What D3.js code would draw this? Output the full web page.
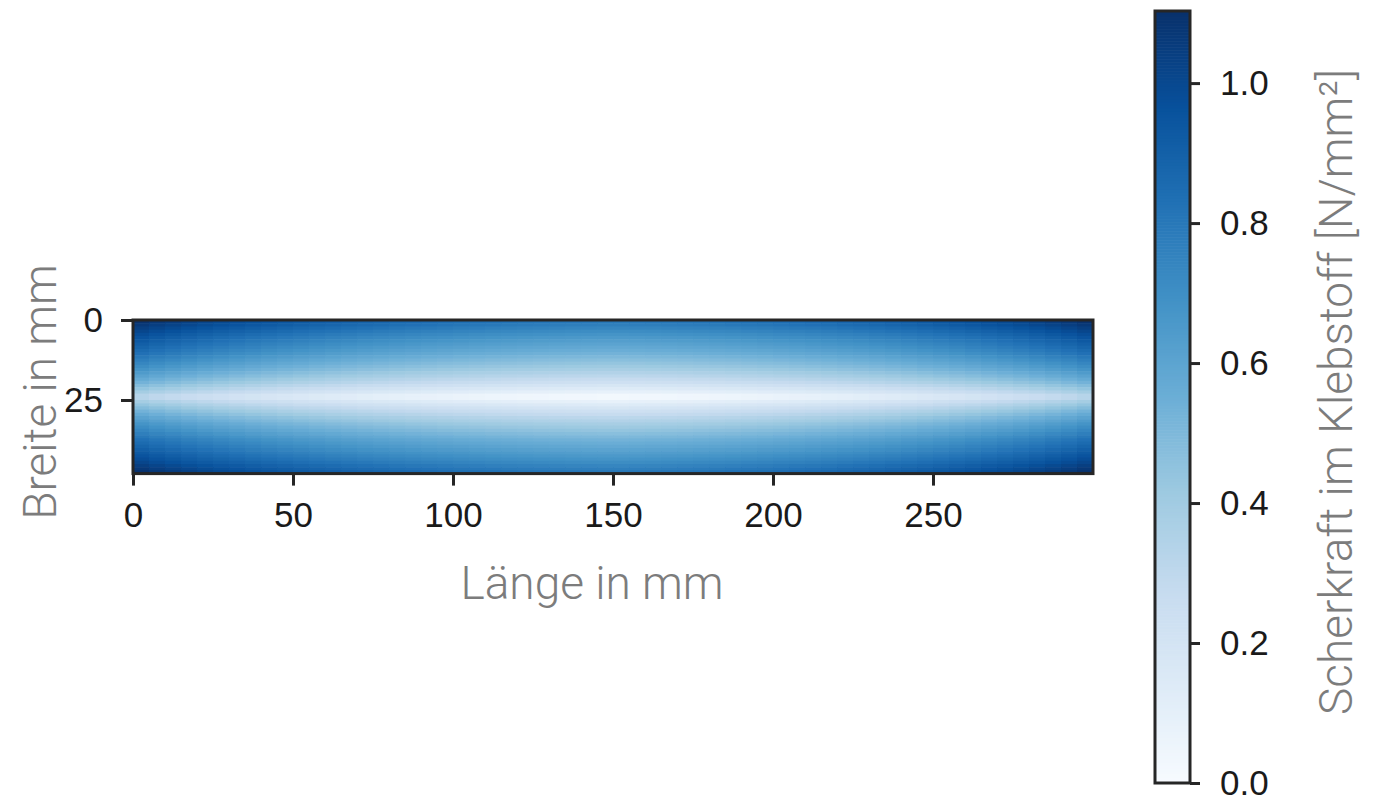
<!DOCTYPE html>
<html>
<head>
<meta charset="utf-8">
<script src="https://cdn.jsdelivr.net/npm/d3@7"></script>
<style>
  html, body { margin: 0; padding: 0; background: #fff; }
  svg { display: block; }
</style>
</head>
<body>
<svg id="chart" width="1387" height="806"></svg>
<script>
// Shear stress across the bond width (1 mm rows, top to bottom) at mid-length, N/mm²
const widthProfile = [
  0.80, 0.77, 0.74, 0.71, 0.68, 0.655, 0.63, 0.605, 0.58, 0.555, 0.53, 0.50,
  0.47, 0.44, 0.41, 0.38, 0.345, 0.31, 0.27, 0.23, 0.185, 0.14, 0.09, 0.03,
  0.03, 0.09, 0.14, 0.185, 0.23, 0.27, 0.31, 0.345, 0.38, 0.41, 0.44, 0.47,
  0.50, 0.53, 0.555, 0.58, 0.605, 0.63, 0.655, 0.68, 0.71, 0.74, 0.77, 0.80
];

// Additional shear along the length (5 mm columns, left to right), N/mm²
const lengthRise = [
  0.30, 0.275, 0.255, 0.235, 0.217, 0.20, 0.185, 0.17, 0.156, 0.143,
  0.13, 0.118, 0.107, 0.096, 0.086, 0.077, 0.068, 0.06, 0.052, 0.045,
  0.038, 0.032, 0.026, 0.021, 0.016, 0.012, 0.008, 0.005, 0.002, 0.0,
  0.0, 0.002, 0.005, 0.008, 0.012, 0.016, 0.021, 0.026, 0.032, 0.038,
  0.045, 0.052, 0.06, 0.068, 0.077, 0.086, 0.096, 0.107, 0.118, 0.13,
  0.143, 0.156, 0.17, 0.185, 0.20, 0.217, 0.235, 0.255, 0.275, 0.30
];

const rowSize = 1;      // mm per row
const colSize = 5;      // mm per column
const bondLength = 300; // mm
const bondWidth = 48;   // mm

const xTicks = [0, 50, 100, 150, 200, 250];
const yTicks = [0, 25];
const colorTicks = [0.0, 0.2, 0.4, 0.6, 0.8, 1.0];
const colorRange = [0, 1.103];

// ColorBrewer "Blues", linearly interpolated
const bluesStops = ["#f7fbff", "#deebf7", "#c6dbef", "#9ecae1", "#6baed6",
                    "#4292c6", "#2171b5", "#08519c", "#08306b"];

const cells = [];
widthProfile.forEach((w, r) => {
  lengthRise.forEach((l, c) => {
    cells.push({ x0: c * colSize, y0: r * rowSize, value: w + l });
  });
});

const svg = d3.select("#chart");

const x = d3.scaleLinear().domain([0, bondLength]).range([133, 1093]);
const y = d3.scaleLinear().domain([0, bondWidth]).range([320, 473.6]);

const color = d3.scaleLinear()
  .domain(bluesStops.map((_, i) => colorRange[0] + (colorRange[1] - colorRange[0]) * i / (bluesStops.length - 1)))
  .range(bluesStops)
  .interpolate(d3.interpolateRgb)
  .clamp(true);

const tickFont = "'Liberation Sans', Arial, sans-serif";
const labelFont = "Roboto, 'Open Sans', sans-serif";
const spineColor = "#262626";
const labelColor = "#7c7c7c";

// Heatmap cells
svg.append("g")
  .selectAll("rect")
  .data(cells)
  .join("rect")
  .attr("x", d => x(d.x0))
  .attr("y", d => y(d.y0))
  .attr("width", d => x(d.x0 + colSize) - x(d.x0) + 0.6)
  .attr("height", d => y(d.y0 + rowSize) - y(d.y0) + 0.6)
  .attr("fill", d => color(d.value));

// Axes
const xAxis = d3.axisBottom(x).tickValues(xTicks).tickSize(12).tickPadding(12).tickFormat(d3.format("d"));
const yAxis = d3.axisLeft(y).tickValues(yTicks).tickSize(12).tickPadding(18).tickFormat(d3.format("d"));

const gx = svg.append("g").attr("transform", `translate(0,${y(bondWidth)})`).call(xAxis);
const gy = svg.append("g").attr("transform", `translate(${x(0)},0)`).call(yAxis);

[gx, gy].forEach(g => {
  g.select(".domain").remove();
  g.selectAll(".tick line").attr("stroke", spineColor).attr("stroke-width", 3);
  g.selectAll(".tick text")
    .attr("fill", "#1a1a1a")
    .style("font-family", tickFont)
    .style("font-size", "35px");
});
gx.selectAll(".tick text").attr("dy", "0.85em");

// Frame around the image
svg.append("rect")
  .attr("x", x(0))
  .attr("y", y(0))
  .attr("width", x(bondLength) - x(0))
  .attr("height", y(bondWidth) - y(0))
  .attr("fill", "none")
  .attr("stroke", spineColor)
  .attr("stroke-width", 3);

// Axis titles
svg.append("text")
  .attr("x", 592)
  .attr("y", 599)
  .attr("text-anchor", "middle")
  .attr("fill", labelColor)
  .style("font-family", labelFont)
  .style("font-weight", 300)
  .style("font-size", "46px")
  .text("Länge in mm");

svg.append("text")
  .attr("transform", `translate(56,392) rotate(-90)`)
  .attr("text-anchor", "middle")
  .attr("fill", labelColor)
  .style("font-family", labelFont)
  .style("font-weight", 300)
  .style("font-size", "46px")
  .text("Breite in mm");

// Colorbar
const cbX = 1155, cbW = 35;
const cb = d3.scaleLinear().domain(colorRange).range([783, 11]);
const cbSteps = d3.range(0, 256).map(i => colorRange[0] + (colorRange[1] - colorRange[0]) * i / 256);
const cbStep = (colorRange[1] - colorRange[0]) / 256;

svg.append("g")
  .selectAll("rect")
  .data(cbSteps)
  .join("rect")
  .attr("x", cbX)
  .attr("y", d => cb(d + cbStep))
  .attr("width", cbW)
  .attr("height", d => cb(d) - cb(d + cbStep) + 0.6)
  .attr("fill", d => color(d + cbStep / 2));

svg.append("rect")
  .attr("x", cbX)
  .attr("y", cb(colorRange[1]))
  .attr("width", cbW)
  .attr("height", cb(colorRange[0]) - cb(colorRange[1]))
  .attr("fill", "none")
  .attr("stroke", spineColor)
  .attr("stroke-width", 3);

const gcb = svg.append("g")
  .attr("transform", `translate(${cbX + cbW},0)`)
  .call(d3.axisRight(cb).tickValues(colorTicks).tickSize(10).tickPadding(20).tickFormat(d3.format(".1f")));
gcb.select(".domain").remove();
gcb.selectAll(".tick line").attr("stroke", spineColor).attr("stroke-width", 3);
gcb.selectAll(".tick text")
  .attr("fill", "#1a1a1a")
  .style("font-family", tickFont)
  .style("font-size", "35px");

svg.append("text")
  .attr("transform", `translate(1352,392) rotate(-90)`)
  .attr("text-anchor", "middle")
  .attr("fill", labelColor)
  .style("font-family", labelFont)
  .style("font-weight", 300)
  .style("font-size", "46px")
  .text("Scherkraft im Klebstoff [N/mm²]");
</script>
</body>
</html>
